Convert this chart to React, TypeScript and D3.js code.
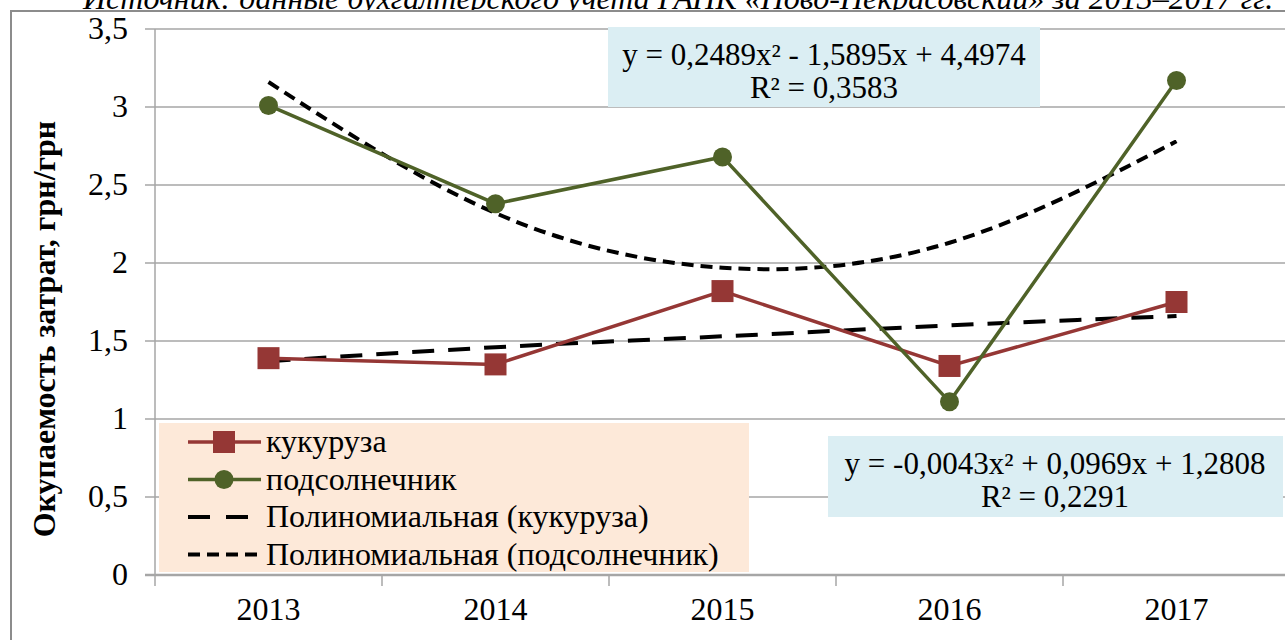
import * as d3 from "d3";

const width = 1285;
const height = 640;
const margin = { top: 29, right: -5, bottom: 65, left: 155 };

// values
const years = ["2013", "2014", "2015", "2016", "2017"];
const corn = [1.39, 1.35, 1.82, 1.34, 1.75];
const sunflower = [3.01, 2.38, 2.68, 1.11, 3.17];
// polynomial trend values at each year
const cornTrend = [1.37, 1.46, 1.53, 1.6, 1.66];
const sunflowerTrend = [3.16, 2.32, 1.97, 2.13, 2.78];
const yTicks = [0, 0.5, 1, 1.5, 2, 2.5, 3, 3.5];
const legendLabels = ["кукуруза", "подсолнечник", "Полиномиальная (кукуруза)", "Полиномиальная (подсолнечник)"];
const sunflowerEq = ["y = 0,2489x² - 1,5895x + 4,4974", "R² = 0,3583"];
const cornEq = ["y = -0,0043x² + 0,0969x + 1,2808", "R² = 0,2291"];
const yTitle = "Окупаемость затрат, грн/грн";
const source = "Источник: данные бухгалтерского учета ГАПК «Ново-Некрасовский» за 2013–2017 гг.";

const font = "'Liberation Serif', 'Times New Roman', serif";
const cornColor = "#953735";
const sunColor = "#4f6228";
const gridColor = "#a6a6a6";
const fs = 32;

const App = () => {
  const x = d3.scaleBand().domain(years).range([margin.left, width - margin.right]);
  const y = d3.scaleLinear().domain([0, 3.5]).range([height - margin.bottom, margin.top]);
  const cx = (i: number) => (x(years[i]) as number) + x.bandwidth() / 2;

  const line = d3.line<number>().x((_, i) => cx(i)).y(d => y(d));
  const curve = d3.line<number>().x((_, i) => cx(i)).y(d => y(d)).curve(d3.curveNatural);

  const fmt = (v: number) => String(v).replace(".", ",");
  const bottom = y(0);

  return (
    <svg width={width} height={height} style={{ position: "absolute", left: 0, top: 0, background: "#fff" }} fontFamily={font}>
      {/* source line, cut at the top like in the scan */}
      <text x={83} y={9} fontSize={fs} fontStyle="italic">{source}</text>
      <rect x={11} y={11} width={width + 20} height={height + 20} fill="#fff" stroke="#8c8c8c" strokeWidth={2} />

      {/* grid */}
      {yTicks.map(t => (
        <line key={t} x1={margin.left - 10} x2={width} y1={y(t)} y2={y(t)} stroke={gridColor} strokeWidth={t === 0 ? 2.5 : 1.5} />
      ))}
      <line x1={margin.left} x2={margin.left} y1={y(3.5)} y2={bottom} stroke={gridColor} strokeWidth={1.5} />
      {years.map(yr => (
        <line key={yr} x1={x(yr)} x2={x(yr)} y1={bottom} y2={bottom + 11} stroke={gridColor} strokeWidth={1.5} />
      ))}

      {yTicks.map(t => (
        <text key={t} x={128} y={y(t) + 10} fontSize={fs} textAnchor="end">{fmt(t)}</text>
      ))}
      {years.map((yr, i) => (
        <text key={yr} x={cx(i)} y={620} fontSize={fs} textAnchor="middle">{yr}</text>
      ))}
      <text transform={`translate(55, 329) rotate(-90)`} fontSize={32} fontWeight="bold" textAnchor="middle">{yTitle}</text>

      {/* trend lines */}
      <path d={curve(cornTrend) as string} fill="none" stroke="#000" strokeWidth={4} strokeDasharray="22 14" />
      <path d={curve(sunflowerTrend) as string} fill="none" stroke="#000" strokeWidth={4} strokeDasharray="12 7" />

      {/* series */}
      <path d={line(corn) as string} fill="none" stroke={cornColor} strokeWidth={3.5} />
      <path d={line(sunflower) as string} fill="none" stroke={sunColor} strokeWidth={3.5} />
      {corn.map((v, i) => (
        <rect key={i} x={cx(i) - 11} y={y(v) - 11} width={22} height={22} fill={cornColor} />
      ))}
      {sunflower.map((v, i) => (
        <circle key={i} cx={cx(i)} cy={y(v)} r={9.5} fill={sunColor} />
      ))}

      {/* legend */}
      <rect x={159} y={423} width={590} height={149} fill="#fde9d9" />
      {legendLabels.map((lbl, i) => {
        const ly = 442 + i * 37.5;
        return (
          <g key={lbl}>
            {i === 0 && <line x1={188} x2={261} y1={ly} y2={ly} stroke={cornColor} strokeWidth={3.5} />}
            {i === 0 && <rect x={213} y={ly - 11} width={22} height={22} fill={cornColor} />}
            {i === 1 && <line x1={188} x2={261} y1={ly} y2={ly} stroke={sunColor} strokeWidth={3.5} />}
            {i === 1 && <circle cx={224} cy={ly} r={9.5} fill={sunColor} />}
            {i === 2 && <line x1={188} x2={261} y1={ly} y2={ly} stroke="#000" strokeWidth={4} strokeDasharray="22 16" />}
            {i === 3 && <line x1={188} x2={261} y1={ly} y2={ly} stroke="#000" strokeWidth={4} strokeDasharray="12 7" />}
            <text x={266} y={ly + 10} fontSize={fs}>{lbl}</text>
          </g>
        );
      })}

      {/* equation labels */}
      <rect x={608} y={27} width={432} height={80} fill="#dbeef3" />
      {sunflowerEq.map((s, i) => (
        <text key={s} x={824} y={65 + i * 33} fontSize={31} textAnchor="middle">{s}</text>
      ))}
      <rect x={828} y={436} width={455} height={81} fill="#dbeef3" />
      {cornEq.map((s, i) => (
        <text key={s} x={1055} y={474 + i * 33} fontSize={31} textAnchor="middle">{s}</text>
      ))}
    </svg>
  );
};

export default App;
